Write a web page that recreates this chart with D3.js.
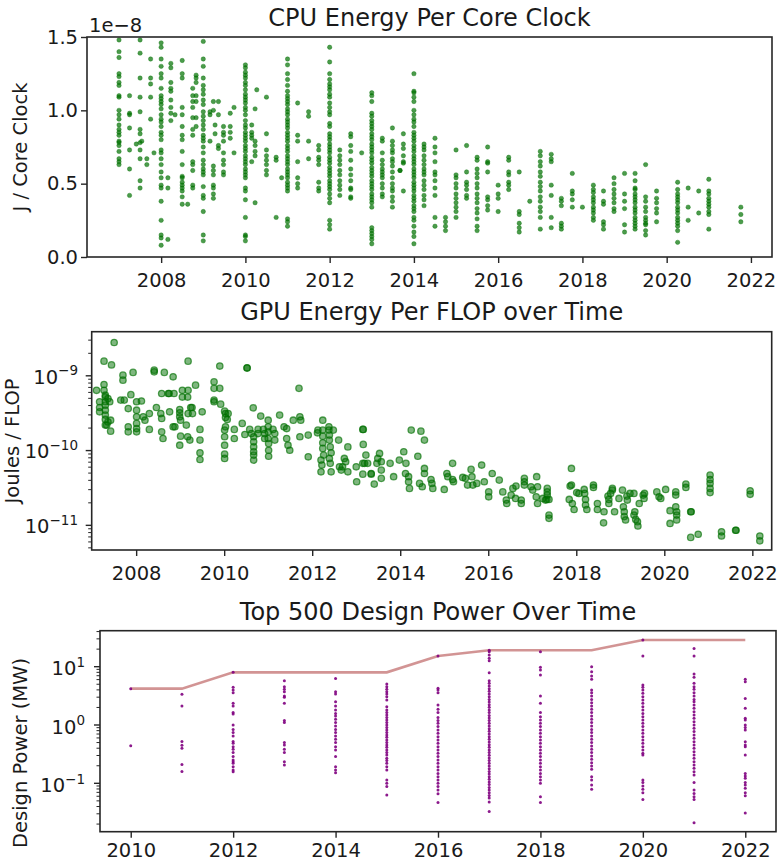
<!DOCTYPE html>
<html>
<head>
<meta charset="utf-8">
<script src="https://cdnjs.cloudflare.com/ajax/libs/d3/7.8.5/d3.min.js"></script>
<style>
  body { margin: 0; background: #fff; }
  svg { display: block; font-family: "DejaVu Sans", sans-serif; }
</style>
</head>
<body>
<svg id="chart" width="778" height="861"></svg>
<script>
// CPU: J per core clock (units of 1e-8), grouped by release date column
const cpuColumns = [
  [2007.0, [1.48,1.40,1.36,1.25,1.23,1.19,1.17,1.10,1.09,1.00,0.97,0.94,0.90,0.87,0.85,0.83,0.79,0.78,0.76,0.72,0.67,0.65,0.63]],
  [2007.25, [1.10,0.98,0.97,0.88,0.73,0.60,0.42]],
  [2007.41, [0.77]],
  [2007.5, [1.48,1.39,1.22,1.09,0.99,0.87,0.84,0.78,0.73,0.67,0.52,0.47]],
  [2007.54, [0.79]],
  [2007.66, [0.67,0.63]],
  [2007.75, [1.35,1.22,1.18,1.09,0.94]],
  [2007.83, [0.71]],
  [2008.0, [1.46,1.43,1.35,1.30,1.25,1.22,1.15,1.10,1.08,1.06,1.04,1.01,0.97,0.94,0.92,0.89,0.85,0.83,0.80,0.73,0.71,0.67,0.63,0.58,0.54,0.49,0.47,0.38,0.25,0.15,0.13,0.08]],
  [2008.16, [0.54,0.47,0.12]],
  [2008.23, [1.32,1.29,1.19,1.15,1.13,1.07,1.02,0.98,0.93]],
  [2008.33, [0.97]],
  [2008.5, [1.34,1.25,1.22,1.02,0.97,0.89,0.83,0.80,0.72,0.63,0.55,0.54,0.51,0.49,0.47,0.45,0.41,0.36]],
  [2008.63, [0.36]],
  [2008.75, [1.15,1.10,1.06,1.02,0.95,0.87,0.83,0.65,0.63,0.59,0.49,0.47]],
  [2008.83, [1.24,1.22,1.19,1.10,1.06,0.95,0.89]],
  [2009.0, [1.47,1.35,1.30,1.22,1.17,1.14,1.11,1.07,1.04,0.99,0.96,0.93,0.90,0.87,0.83,0.81,0.79,0.75,0.71,0.66,0.63,0.60,0.58,0.56,0.48,0.42,0.40,0.31,0.15,0.11]],
  [2009.16, [0.99,0.97,0.79]],
  [2009.24, [1.06,1.00,0.62,0.59,0.56,0.49,0.47,0.43,0.40]],
  [2009.28, [0.90,0.84]],
  [2009.36, [1.06,0.97,0.76,0.74]],
  [2009.48, [0.89,0.85,0.83,0.79,0.71,0.66,0.63,0.58,0.56]],
  [2009.64, [0.98,0.89,0.85,0.81]],
  [2009.73, [1.02,0.71]],
  [2010.0, [1.31,1.29,1.26,1.24,1.22,1.19,1.17,1.14,1.11,1.09,1.07,1.05,1.02,1.00,0.97,0.93,0.90,0.88,0.85,0.83,0.81,0.79,0.76,0.74,0.72,0.69,0.67,0.65,0.63,0.60,0.58,0.56,0.54,0.47,0.45,0.39,0.27,0.15,0.14,0.11]],
  [2010.15, [0.90,0.85,0.83,0.81,0.65]],
  [2010.23, [1.01,0.79,0.76,0.72,0.69,0.37]],
  [2010.27, [1.14]],
  [2010.5, [1.09,0.84,0.73,0.69,0.66,0.63,0.59,0.56]],
  [2010.73, [0.68,0.66,0.27]],
  [2010.86, [0.54]],
  [2011.0, [1.35,1.31,1.25,1.21,1.17,1.13,1.10,1.08,1.06,1.04,1.01,0.99,0.97,0.94,0.92,0.90,0.88,0.85,0.83,0.81,0.79,0.76,0.74,0.72,0.69,0.67,0.65,0.63,0.60,0.58,0.56,0.54,0.51,0.49,0.47,0.45,0.26,0.24,0.21]],
  [2011.24, [1.05,0.83,0.79,0.65,0.54,0.50,0.47]],
  [2011.5, [0.99,0.96,0.79,0.67]],
  [2011.74, [0.76,0.73,0.68,0.66,0.63,0.51,0.47,0.45]],
  [2012.0, [1.43,1.33,1.25,1.21,1.18,1.16,1.14,1.11,1.09,1.05,1.02,0.99,0.97,0.91,0.89,0.84,0.82,0.80,0.77,0.75,0.73,0.71,0.68,0.66,0.64,0.61,0.59,0.57,0.55,0.52,0.50,0.48,0.46,0.43,0.40,0.37,0.25,0.22,0.19]],
  [2012.24, [0.73,0.69,0.66,0.63,0.59,0.56,0.52,0.49,0.46,0.42]],
  [2012.5, [0.84,0.82,0.76,0.72,0.66,0.60,0.56,0.52,0.47,0.46,0.41,0.40]],
  [2012.76, [0.71]],
  [2013.0, [1.12,1.10,1.06,0.98,0.96,0.93,0.91,0.89,0.87,0.84,0.82,0.80,0.77,0.75,0.73,0.71,0.68,0.66,0.64,0.61,0.59,0.57,0.55,0.52,0.50,0.48,0.46,0.43,0.41,0.39,0.37,0.34,0.20,0.18,0.16,0.14,0.12,0.09]],
  [2013.25, [0.81,0.79,0.71,0.66,0.63,0.60,0.58,0.56,0.54,0.50,0.47,0.43,0.41]],
  [2013.49, [0.88,0.79,0.76,0.73,0.71,0.67,0.65,0.62,0.58,0.54,0.50,0.47,0.45,0.41,0.38,0.34]],
  [2013.67, [0.59,0.59]],
  [2013.75, [0.84,0.77,0.74,0.69,0.65,0.64,0.45]],
  [2014.0, [1.25,1.13,1.12,1.09,1.06,1.00,0.97,0.94,0.92,0.89,0.85,0.83,0.81,0.79,0.76,0.74,0.72,0.69,0.67,0.65,0.63,0.60,0.58,0.56,0.54,0.51,0.49,0.47,0.45,0.42,0.40,0.38,0.35,0.33,0.31,0.27,0.25,0.21,0.17,0.14,0.09]],
  [2014.24, [0.77,0.75,0.73,0.69,0.66,0.63,0.60,0.58,0.56,0.52,0.49,0.46,0.42,0.39,0.35]],
  [2014.5, [0.81,0.75,0.71,0.65,0.58,0.56,0.52,0.47,0.42,0.27,0.21]],
  [2014.75, [0.27,0.24,0.21,0.18]],
  [2015.0, [0.73,0.56,0.54,0.50,0.47,0.43,0.40,0.37,0.34,0.31,0.27]],
  [2015.25, [0.76,0.58,0.51,0.49,0.46,0.42,0.40]],
  [2015.5, [0.68,0.66,0.60,0.57,0.54,0.50,0.47,0.43,0.40,0.37,0.33,0.30,0.26,0.21,0.18]],
  [2015.75, [0.75,0.65,0.64,0.58,0.41,0.39,0.35,0.32]],
  [2016.0, [0.49,0.43,0.40,0.31]],
  [2016.25, [0.68,0.66,0.58,0.56,0.51,0.49,0.46]],
  [2016.5, [0.58,0.31,0.29,0.23,0.20,0.17]],
  [2016.75, [0.38]],
  [2017.0, [0.72,0.69,0.65,0.62,0.58,0.55,0.51,0.48,0.45,0.41,0.38,0.34,0.31,0.27,0.19]],
  [2017.26, [0.70,0.67,0.65,0.49,0.42,0.27,0.20]],
  [2017.5, [0.40,0.38,0.35,0.23,0.21,0.19]],
  [2017.76, [0.57,0.45,0.43,0.39,0.34]],
  [2018.0, [0.34]],
  [2018.26, [0.49,0.46,0.44,0.41,0.39,0.37,0.34,0.32,0.30,0.27,0.25]],
  [2018.5, [0.45,0.38,0.36,0.24,0.22,0.19]],
  [2018.75, [0.54,0.50,0.46,0.43,0.40,0.37,0.33,0.31]],
  [2019.0, [0.57,0.43,0.38,0.33,0.22,0.17]],
  [2019.25, [0.57,0.52,0.47,0.46,0.43,0.41,0.39,0.37,0.34,0.32,0.30,0.27,0.25,0.23,0.21,0.19]],
  [2019.5, [0.63,0.41,0.38,0.34,0.31,0.27,0.25,0.23,0.22,0.18,0.15]],
  [2019.76, [0.45,0.40,0.37,0.33,0.30,0.24]],
  [2020.26, [0.51,0.46,0.43,0.41,0.39,0.37,0.34,0.32,0.30,0.27,0.25,0.23,0.21,0.18,0.10]],
  [2020.51, [0.47,0.34,0.25]],
  [2020.76, [0.45,0.30]],
  [2021.0, [0.53,0.45,0.43,0.40,0.38,0.36,0.34,0.31,0.29,0.19]],
  [2021.76, [0.34,0.29,0.24]]
];

// GPU: [release year, joules per FLOP in units of 1e-10]
const gpuPoints = [
  [2007.50,27.9],[2007.27,15.7],[2007.44,14.0],[2007.10,6.4],[2007.27,7.65],[2007.27,6.4],[2007.17,4.5],[2007.17,3.77],
  [2007.17,3.30],[2007.30,5.5],[2007.30,5.2],[2007.30,4.5],[2007.30,4.05],[2007.30,3.47],[2007.30,2.98],[2007.30,2.61],
  [2007.30,2.19],[2007.36,4.97],[2007.40,4.5],[2007.42,2.55],[2007.42,1.82],[2007.33,2.19],[2007.36,2.42],[2007.70,10.2],
  [2007.70,8.75],[2007.65,4.73],[2007.73,4.73],[2007.82,3.65],[2007.88,5.6],[2007.93,11.1],[2008.01,4.5],[2008.01,3.47],
  [2008.01,2.83],[2008.01,2.31],[2008.01,1.97],[2008.01,1.78],[2007.82,2.08],[2007.82,1.78],[2008.12,4.6],[2008.16,2.83],
  [2008.20,2.55],[2008.30,3.13],[2008.30,1.92],[2008.41,11.9],[2008.41,11.3],[2008.46,3.77],[2008.58,5.8],[2008.56,3.13],
  [2008.58,2.69],[2008.64,11.1],[2008.58,1.78],[2008.61,1.45],[2008.76,3.30],[2008.75,5.8],[2008.73,5.8],[2008.86,5.8],
  [2008.84,9.7],[2008.84,2.08],[2008.88,2.08],[2008.99,3.54],[2008.99,3.2],[2008.99,2.83],[2009.01,2.55],[2009.01,1.56],
  [2008.99,1.18],[2009.05,6.4],[2009.05,5.2],[2009.14,2.19],[2009.18,15.7],[2009.18,6.4],[2009.17,5.2],[2009.18,3.13],
  [2009.17,1.53],[2009.22,1.38],[2009.24,3.77],[2009.28,3.13],[2009.27,3.77],[2009.35,7.5],[2009.45,1.92],[2009.45,1.38],
  [2009.45,0.935],[2009.45,0.76],[2009.50,3.30],[2009.77,8.3],[2009.77,6.8],[2009.90,6.8],[2009.77,4.73],[2009.77,4.5],
  [2009.90,13.5],[2009.92,4.18],[2010.01,3.37],[2010.03,3.13],[2010.03,2.77],[2010.03,2.08],[2010.01,1.88],[2010.01,1.53],
  [2010.01,1.18],[2010.01,0.897],[2010.01,0.785],[2010.09,3.13],[2010.07,2.61],[2010.23,1.92],[2010.23,1.45],[2010.41,2.31],
  [2010.47,1.64],[2010.52,12.8],[2010.52,12.7],[2010.58,1.92],[2010.62,1.69],[2010.66,3.73],[2010.67,1.53],[2010.67,1.31],
  [2010.67,1.12],[2010.67,0.965],[2010.67,0.87],[2010.67,0.746],[2010.77,1.92],[2010.77,1.69],[2010.83,2.89],[2010.89,1.92],
  [2010.92,1.69],[2010.92,1.45],[2011.00,2.55],[2011.00,2.08],[2011.00,1.78],[2011.00,1.45],[2011.01,1.24],[2011.01,1.01],
  [2011.01,0.84],[2011.11,1.92],[2011.15,1.69],[2011.15,1.38],[2011.26,2.98],[2011.36,2.08],[2011.42,1.97],[2011.42,1.45],
  [2011.45,1.18],[2011.49,1.01],[2011.57,2.55],[2011.70,6.8],[2011.72,2.83],[2011.74,2.55],[2011.72,1.53],[2011.91,1.61],
  [2011.91,0.826],[2012.12,1.73],
  [2012.13,1.88],[2012.24,2.55],[2012.24,1.88],[2012.24,1.56],[2012.24,1.27],[2012.24,1.07],[2012.26,0.87],[2012.20,0.746],
  [2012.22,0.64],[2012.20,0.52],[2012.38,2.08],[2012.38,1.88],[2012.39,1.61],[2012.39,1.38],[2012.41,1.12],[2012.43,0.935],
  [2012.39,0.785],[2012.41,0.675],[2012.43,0.52],[2012.48,1.88],[2012.60,1.38],[2012.62,0.607],[2012.66,0.548],[2012.69,0.607],
  [2012.73,0.785],[2012.76,0.71],[2012.81,0.52],[2012.81,1.12],[2013.00,0.607],[2013.01,0.383],[2013.15,1.92],[2013.16,1.92],
  [2013.16,1.21],[2013.22,0.87],[2013.15,0.675],[2013.19,0.675],[2013.26,0.675],[2013.15,0.484],[2013.34,0.494],[2013.34,0.484],
  [2013.41,0.356],[2013.47,0.675],[2013.49,0.785],[2013.53,0.916],[2013.57,0.71],[2013.57,0.548],[2013.57,0.425],[2013.77,0.675],
  [2013.85,0.447],[2013.98,0.746],[2014.08,0.965],[2014.13,0.675],[2014.12,0.494],[2014.19,0.447],[2014.19,0.383],[2014.21,0.312],
  [2014.25,1.88],[2014.47,1.82],[2014.55,1.38],[2014.40,0.84],[2014.44,0.364],[2014.50,0.328],[2014.55,0.577],[2014.55,0.494],
  [2014.70,0.41],[2014.72,0.364],[2014.74,0.312],[2015.00,0.302],[2015.06,0.494],[2015.08,0.447],[2015.19,0.675],[2015.19,0.41],
  [2015.21,0.383],[2015.42,0.437],[2015.48,0.425],[2015.53,0.346],[2015.61,0.56],[2015.63,0.447],[2015.65,0.346],[2015.74,0.364],
  [2015.85,0.64],[2015.91,0.383],[2016.01,0.28],[2016.01,0.241],[2016.09,0.494],[2016.25,0.403],[2016.33,0.28],[2016.41,0.218],
  [2016.42,0.196],[2016.52,0.254],[2016.56,0.312],[2016.62,0.229],[2016.63,0.335],[2016.75,0.218],[2016.75,0.196],[2016.82,0.425],
  [2016.82,0.383],[2016.82,0.346],[2016.97,0.328],[2017.01,0.296],[2017.10,0.447],[2017.12,0.328],[2017.09,0.241],[2017.12,0.196],
  [2017.24,0.229],[2017.30,0.218],
  [2017.34,0.312],[2017.34,0.28],[2017.34,0.254],[2017.33,0.222],[2017.38,0.222],[2017.38,0.137],[2017.38,0.124],[2017.89,0.577],
  [2017.86,0.335],[2017.89,0.346],[2017.84,0.222],[2017.91,0.196],[2017.95,0.163],[2018.01,0.274],[2018.06,0.267],[2018.18,0.302],
  [2018.19,0.267],[2018.21,0.222],[2018.21,0.187],[2018.24,0.163],[2018.39,0.346],[2018.39,0.321],[2018.48,0.196],[2018.48,0.163],
  [2018.62,0.108],[2018.63,0.152],[2018.74,0.222],[2018.72,0.246],[2018.78,0.267],[2018.82,0.296],[2018.82,0.312],[2018.74,0.196],
  [2018.87,0.152],[2018.97,0.229],[2019.05,0.296],[2019.07,0.177],[2019.09,0.152],[2019.09,0.131],[2019.12,0.118],[2019.15,0.246],
  [2019.16,0.218],[2019.22,0.267],[2019.31,0.267],[2019.33,0.152],[2019.31,0.137],[2019.35,0.12],[2019.39,0.112],[2019.40,0.098],
  [2019.43,0.196],[2019.52,0.254],[2019.54,0.229],[2019.55,0.267],[2019.83,0.28],[2019.88,0.241],[2019.92,0.229],[2020.03,0.302],
  [2020.13,0.157],[2020.13,0.106],[2020.26,0.28],[2020.26,0.254],[2020.26,0.177],[2020.28,0.152],[2020.28,0.137],[2020.28,0.118],
  [2020.49,0.356],[2020.49,0.321],[2020.60,0.152],[2020.61,0.152],[2020.60,0.069],[2020.77,0.076],[2021.04,0.47],[2021.04,0.41],
  [2021.04,0.364],[2021.04,0.312],[2021.04,0.274],[2021.30,0.082],[2021.30,0.072],[2021.62,0.086],[2021.63,0.086],[2021.95,0.29],
  [2021.95,0.26],[2022.17,0.072],[2022.17,0.062]
];

// Top 500: design power (MW) of listed systems, per year
const top500Years = [2010, 2011, 2012, 2013, 2014, 2015, 2016, 2017, 2018, 2019, 2020, 2021, 2022];
const top500Power = [
  [4.2, 0.44],
  [3.36, 2.12, 0.52, 0.45, 0.40, 0.21, 0.16],
  [8.0, 4.43, 3.98, 3.58, 2.35, 2.12, 1.63, 1.54, 1.0, 0.84, 0.74, 0.65, 0.52, 0.485, 0.425, 0.383, 0.336, 0.287, 0.251, 0.235, 0.22, 0.193, 0.169, 0.158],
  [5.75, 4.54, 4.09, 3.73, 3.14, 2.98, 2.35, 1.19, 1.10, 0.50, 0.454, 0.383, 0.336, 0.235, 0.206],
  [6.3, 3.73, 3.4, 2.51, 2.12, 1.81, 1.58, 1.43, 1.25, 1.10, 0.96, 0.84, 0.74, 0.65, 0.57, 0.50, 0.425, 0.373, 0.287, 0.193, 0.169, 0.152],
  [5.04, 4.54, 4.09, 3.73, 3.4, 3.06, 2.68, 2.06, 1.81, 1.63, 1.48, 1.35, 1.22, 1.10, 1.0, 0.91, 0.82, 0.74, 0.675, 0.615, 0.553, 0.50, 0.454, 0.414, 0.373, 0.336, 0.306, 0.268, 0.245, 0.22, 0.193, 0.169, 0.114, 0.1, 0.088, 0.063],
  [15.2, 4.25, 3.98, 3.58, 2.2, 1.86, 1.63, 1.35, 1.19, 1.07, 0.94, 0.82, 0.72, 0.63, 0.553, 0.485, 0.425, 0.373, 0.327, 0.287, 0.251, 0.22, 0.193, 0.169, 0.148, 0.13, 0.114, 0.1, 0.088, 0.077, 0.066, 0.047],
  [19.1, 18.1, 15.8, 13.9, 12.7, 7.9, 5.75, 5.18, 4.66, 4.2, 3.78, 3.4, 3.06, 2.75, 2.48, 2.23, 2.01, 1.81, 1.63, 1.46, 1.32, 1.19, 1.07, 0.96, 0.865, 0.78, 0.70, 0.63, 0.57, 0.51, 0.46, 0.414, 0.373, 0.336, 0.302, 0.272, 0.245, 0.22, 0.198, 0.178, 0.16, 0.145, 0.13, 0.117, 0.105, 0.095, 0.085, 0.077, 0.069, 0.062, 0.056, 0.048, 0.033],
  [18.1, 9.75, 8.77, 7.2, 3.14, 2.35, 1.63, 1.39, 1.22, 1.07, 0.94, 0.82, 0.72, 0.63, 0.553, 0.485, 0.425, 0.373, 0.327, 0.287, 0.251, 0.22, 0.193, 0.169, 0.148, 0.13, 0.114, 0.1, 0.059, 0.047],
  [10, 8.2, 6.92, 6.07, 3.98, 3.58, 3.14, 2.75, 2.41, 2.12, 1.86, 1.63, 1.43, 1.25, 1.10, 0.96, 0.84, 0.74, 0.65, 0.57, 0.50, 0.436, 0.383, 0.336, 0.294, 0.258, 0.226, 0.198, 0.174, 0.13, 0.114, 0.094, 0.079],
  [28.7, 15.2, 4.85, 4.43, 3.98, 3.49, 3.06, 2.68, 2.35, 2.06, 1.81, 1.58, 1.39, 1.22, 1.07, 0.94, 0.82, 0.72, 0.63, 0.553, 0.485, 0.425, 0.373, 0.327, 0.306, 0.114, 0.103, 0.09, 0.079, 0.069, 0.053],
  [20.6, 15.2, 7.48, 6.56, 5.18, 4.54, 4.09, 3.58, 3.14, 2.75, 2.51, 2.2, 1.93, 1.69, 1.48, 1.30, 1.14, 1.0, 0.877, 0.77, 0.675, 0.59, 0.518, 0.454, 0.398, 0.349, 0.306, 0.268, 0.235, 0.206, 0.181, 0.158, 0.139, 0.103, 0.077, 0.067, 0.059, 0.053, 0.021],
  [6.07, 5.53, 2.86, 1.93, 1.30, 1.22, 1.0, 0.91, 0.82, 0.518, 0.454, 0.425, 0.306, 0.148, 0.134, 0.122, 0.103, 0.094, 0.082, 0.069, 0.061, 0.031]
];
// running maximum design power (MW)
const top500Max = [4.2, 4.2, 8.0, 8.0, 8.0, 8.0, 15.2, 19.1, 19.1, 19.1, 28.7, 28.7, 28.7];

const cpuTicks = [2008, 2010, 2012, 2014, 2016, 2018, 2020, 2022];
const gpuTicks = [2008, 2010, 2012, 2014, 2016, 2018, 2020, 2022];
const top500Ticks = [2010, 2012, 2014, 2016, 2018, 2020, 2022];

const svg = d3.select('#chart');
const INK = '#262626';
const GREEN = '#007000';
const TICK_FS = 19.5;

function frame(x, y) {
  const [x0, x1] = x.range();
  const [y0, y1] = y.range();
  svg.append('rect')
    .attr('x', x0).attr('y', y1)
    .attr('width', x1 - x0).attr('height', y0 - y1)
    .attr('fill', 'none')
    .attr('stroke', INK)
    .attr('stroke-width', 1.6);
}

function xAxis(x, y, ticks, pad) {
  const g = svg.append('g')
    .attr('transform', `translate(0,${y.range()[0]})`)
    .call(d3.axisBottom(x).tickValues(ticks).tickFormat(d3.format('d')).tickSize(6).tickPadding(pad));
  g.select('.domain').remove();
  g.selectAll('line').attr('stroke', INK).attr('stroke-width', 1.4);
  g.selectAll('text').attr('fill', '#1a1a1a').attr('font-size', TICK_FS).attr('font-family', '"DejaVu Sans"');
}

function logYAxis(x, y, labelEnd, dyEm) {
  const left = x.range()[0];
  const [lo, hi] = y.domain();
  const e0 = Math.floor(Math.log10(lo));
  const e1 = Math.ceil(Math.log10(hi));
  const g = svg.append('g');
  for (let e = e0; e <= e1; e++) {
    for (let m = 1; m < 10; m++) {
      const v = m * Math.pow(10, e);
      if (v < lo || v > hi) continue;
      const py = y(v);
      g.append('line')
        .attr('x1', left).attr('x2', left - (m === 1 ? 6 : 3.5))
        .attr('y1', py).attr('y2', py)
        .attr('stroke', INK).attr('stroke-width', m === 1 ? 1.4 : 1);
      if (m === 1) {
        const t = g.append('text')
          .attr('x', labelEnd).attr('y', py).attr('dy', dyEm)
          .attr('text-anchor', 'end')
          .attr('font-size', TICK_FS).attr('fill', '#1a1a1a');
        t.append('tspan').text('10');
        t.append('tspan').attr('font-size', 13.5).attr('dy', -8.5)
          .text(e < 0 ? '\u2212' + (-e) : String(e));
      }
    }
  }
}

function title(text, cx, baseline) {
  svg.append('text')
    .attr('x', cx).attr('y', baseline)
    .attr('text-anchor', 'middle')
    .attr('font-size', 24).attr('fill', '#1a1a1a')
    .text(text);
}

function yLabel(text, bx, cy) {
  svg.append('text')
    .attr('transform', `translate(${bx},${cy}) rotate(-90)`)
    .attr('text-anchor', 'middle')
    .attr('font-size', TICK_FS).attr('fill', '#1a1a1a')
    .text(text);
}

// ---------- CPU panel ----------
const cpuX = d3.scaleLinear().domain([2006.24, 2022.5]).range([87, 772]);
const cpuY = d3.scaleLinear().domain([0, 1.5]).range([257, 37]);
const cpuDots = cpuColumns.flatMap(([yr, vals]) => vals.map((v) => [yr, v]));

svg.append('g').selectAll('circle')
  .data(cpuDots)
  .enter()
  .append('circle')
  .attr('cx', (d) => cpuX(d[0]))
  .attr('cy', (d) => cpuY(d[1]))
  .attr('r', 2.2)
  .attr('fill', GREEN).attr('fill-opacity', 0.7)
  .attr('stroke', GREEN).attr('stroke-opacity', 0.45).attr('stroke-width', 0.8);

frame(cpuX, cpuY);
xAxis(cpuX, cpuY, cpuTicks, 10);
const cpuYAxis = svg.append('g')
  .attr('transform', `translate(${cpuX.range()[0]},0)`)
  .call(d3.axisLeft(cpuY).tickValues([0, 0.5, 1.0, 1.5]).tickFormat(d3.format('.1f')).tickSize(6).tickPadding(3));
cpuYAxis.select('.domain').remove();
cpuYAxis.selectAll('line').attr('stroke', INK).attr('stroke-width', 1.4);
cpuYAxis.selectAll('text').attr('fill', '#1a1a1a').attr('font-size', TICK_FS).attr('font-family', '"DejaVu Sans"');
svg.append('text')
  .attr('x', 89).attr('y', 32)
  .attr('font-size', TICK_FS).attr('fill', '#1a1a1a')
  .text('1e\u22128');
title('CPU Energy Per Core Clock', 429.5, 26);
yLabel('J / Core Clock', 27, 147);

// ---------- GPU panel ----------
const gpuX = d3.scaleLinear().domain([2006.99, 2022.44]).range([91.7, 771.7]);
const gpuY = d3.scaleLog().domain([4.68e-12, 3.89e-9]).range([550, 331.7]);

svg.append('g').selectAll('circle')
  .data(gpuPoints)
  .enter()
  .append('circle')
  .attr('cx', (d) => gpuX(d[0]))
  .attr('cy', (d) => gpuY(d[1] * 1e-10))
  .attr('r', 3.2)
  .attr('fill', GREEN).attr('fill-opacity', 0.5)
  .attr('stroke', GREEN).attr('stroke-opacity', 0.65).attr('stroke-width', 1.3);

frame(gpuX, gpuY);
xAxis(gpuX, gpuY, gpuTicks, 10);
logYAxis(gpuX, gpuY, 78, '0.4em');
title('GPU Energy Per FLOP over Time', 431.7, 320);
yLabel('Joules / FLOP', 19, 441);

// ---------- Top 500 panel ----------
const topX = d3.scaleLinear().domain([2009.4, 2022.6]).range([100, 776]);
const topY = d3.scaleLog().domain([0.0148, 41.4]).range([831.7, 630.7]);

svg.append('path')
  .datum(top500Years.map((yr, i) => [yr, top500Max[i]]))
  .attr('d', d3.line().x((d) => topX(d[0])).y((d) => topY(d[1])))
  .attr('fill', 'none')
  .attr('stroke', '#a52a2a').attr('stroke-opacity', 0.5)
  .attr('stroke-width', 2.6);

const topDots = top500Years.flatMap((yr, i) => top500Power[i].map((v) => [yr, v]));
svg.append('g').selectAll('circle')
  .data(topDots)
  .enter()
  .append('circle')
  .attr('cx', (d) => topX(d[0]))
  .attr('cy', (d) => topY(d[1]))
  .attr('r', 1.5)
  .attr('fill', 'purple').attr('fill-opacity', 0.9);

frame(topX, topY);
xAxis(topX, topY, top500Ticks, 5);
logYAxis(topX, topY, 85, '0.45em');
title('Top 500 Design Power Over Time', 438, 620);
yLabel('Design Power (MW)', 27, 753);
</script>
</body>
</html>
